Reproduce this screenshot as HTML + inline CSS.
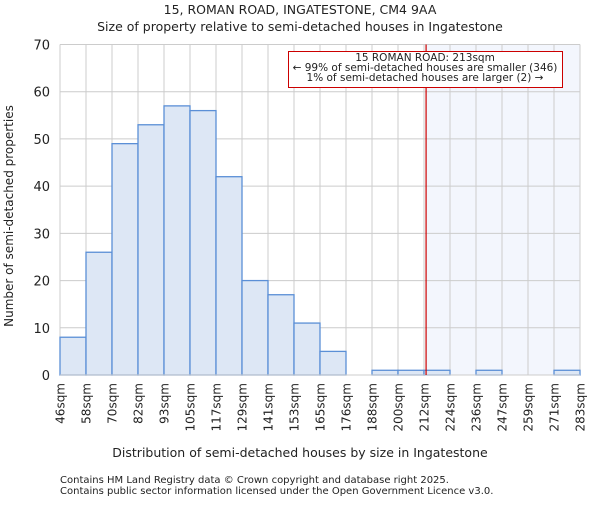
<!DOCTYPE html>
<html><head><meta charset="utf-8"><style>
body{margin:0;background:#fff}
svg text{font-family:"DejaVu Sans","Liberation Sans",sans-serif;fill:#222}
</style></head><body>
<svg width="600" height="500" xmlns="http://www.w3.org/2000/svg">
<text x="300" y="14" font-size="12.5" text-anchor="middle">15, ROMAN ROAD, INGATESTONE, CM4 9AA</text>
<text x="300" y="31" font-size="12.5" text-anchor="middle">Size of property relative to semi-detached houses in Ingatestone</text>
<g id="plot"></g>
<text x="300" y="457" font-size="12.5" text-anchor="middle">Distribution of semi-detached houses by size in Ingatestone</text>
<text transform="translate(13,216) rotate(-90)" font-size="12" text-anchor="middle">Number of semi-detached properties</text>
<text x="60" y="483" font-size="10" fill="#444">Contains HM Land Registry data © Crown copyright and database right 2025.</text>
<text x="60" y="494" font-size="10" fill="#444">Contains public sector information licensed under the Open Government Licence v3.0.</text>
</svg>
<script>
const tickLabels=["46sqm","58sqm","70sqm","82sqm","93sqm","105sqm","117sqm","129sqm","141sqm","153sqm","165sqm","176sqm","188sqm","200sqm","212sqm","224sqm","236sqm","247sqm","259sqm","271sqm","283sqm"];
const counts=[8,26,49,53,57,56,42,20,17,11,5,0,1,1,1,0,1,0,0,1];
const yTicks=[0,10,20,30,40,50,60,70];
const markerBin=14.08;
const NS="http://www.w3.org/2000/svg";
const L=60,R=580,T=44.5,B=375,yMax=70;
const nb=counts.length,bw=(R-L)/nb;
const xs=i=>L+i*bw;
const ys=v=>B-(v/yMax)*(B-T);
const g=document.getElementById('plot');
function mk(t,a){const e=document.createElementNS(NS,t);for(const k in a)e.setAttribute(k,a[k]);g.appendChild(e);return e;}
const mx=xs(markerBin);
let e=mk('rect',{x:mx,y:T,width:R-mx,height:B-T,fill:'#f3f6fd'});


yTicks.forEach(v=>{
 let l=mk('line',{x1:L,x2:R,y1:ys(v),y2:ys(v),stroke:'#cccccc'});
 
 
 let t=mk('text',{x:L-10,y:ys(v)+5,'font-size':13,'text-anchor':'end'});
 t.textContent=v;
 
 
});
tickLabels.forEach((s,i)=>{
 let l=mk('line',{x1:xs(i),x2:xs(i),y1:T,y2:B,stroke:'#cccccc'});
 
 
 let t=mk('text',{transform:`translate(${xs(i)+4.5},383) rotate(-90)`,'font-size':12,'text-anchor':'end'});
 t.textContent=s;
 
 
});
counts.forEach((v,i)=>{
 if(v<=0)return;
 let r=mk('rect',{x:xs(i),y:ys(v),width:bw,height:B-ys(v),fill:'#dde7f5',stroke:'#5b8fd6','stroke-width':1.3});
 
 
});
e=mk('line',{x1:L,x2:R,y1:B,y2:B,stroke:'#cccccc'});


e=mk('line',{x1:mx,x2:mx,y1:T,y2:B,stroke:'#cc0000','stroke-width':1.2});


e=mk('rect',{x:288.5,y:51.5,width:274,height:36,fill:'#fff',stroke:'#cc0000'});


["15 ROMAN ROAD: 213sqm","← 99% of semi-detached houses are smaller (346)","1% of semi-detached houses are larger (2) →"].forEach((s,i)=>{
 let t=mk('text',{x:425,y:61+i*10,'font-size':10.5,'text-anchor':'middle'});
 t.textContent=s;
 
 
});
</script>
</body></html>
